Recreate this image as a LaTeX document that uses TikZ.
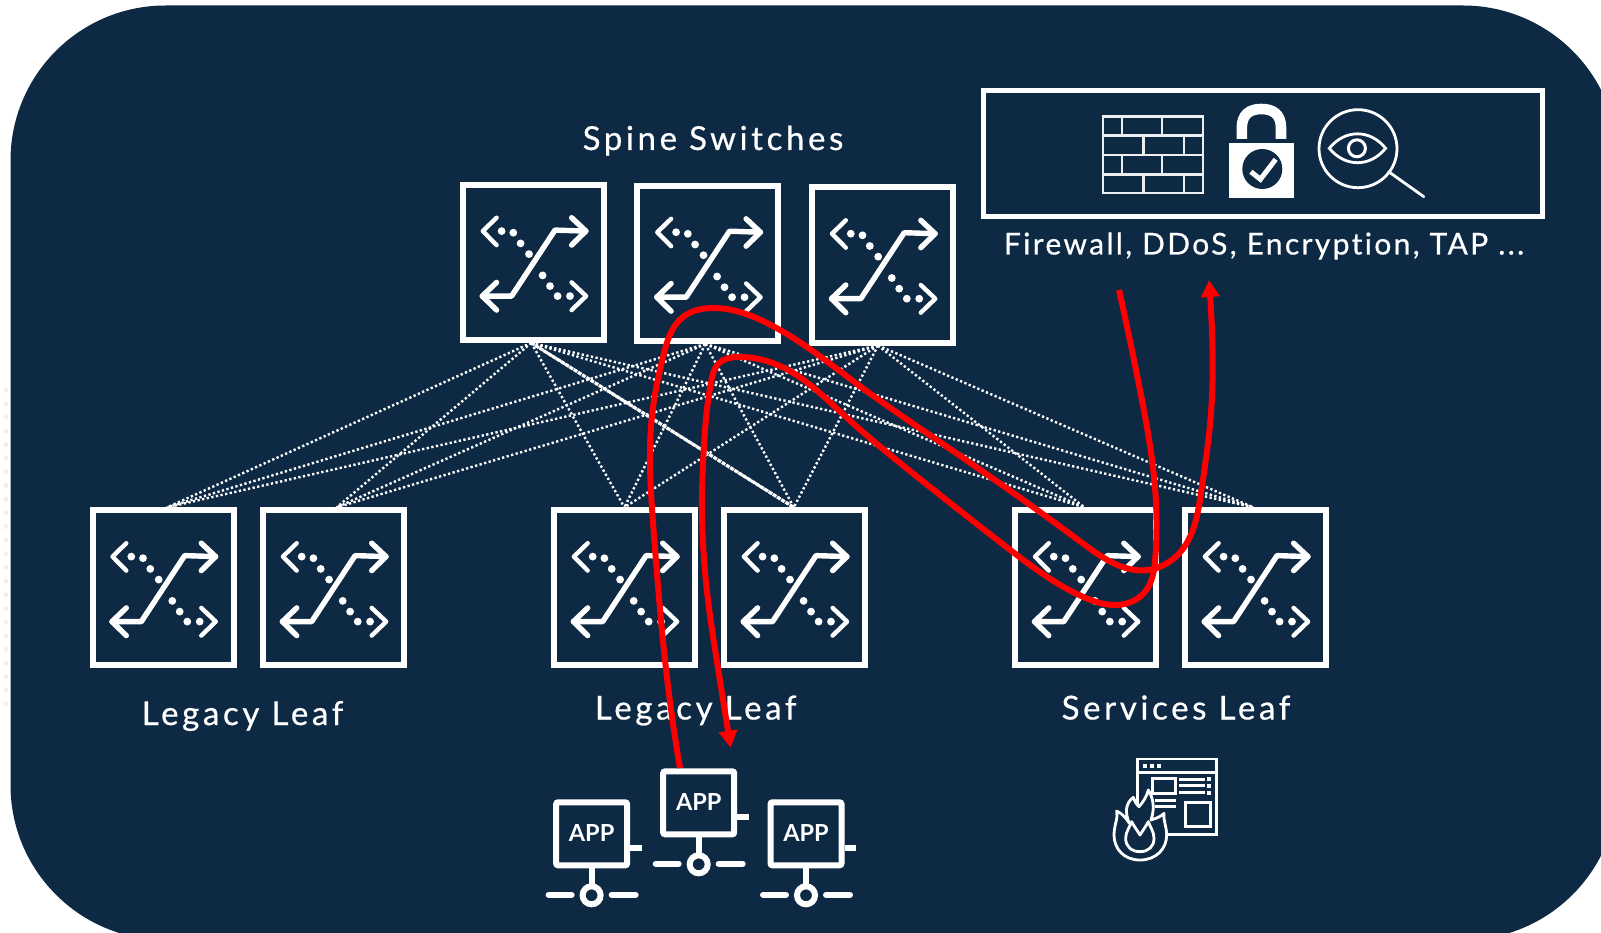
\documentclass[tikz,border=0pt]{standalone}
\usepackage{fontspec}
\setmainfont[Ligatures=NoCommon]{Lato}
\usetikzlibrary{arrows.meta,hobby}
\definecolor{navy}{RGB}{13,41,67}
\definecolor{hot}{RGB}{255,0,0}
\tikzset{
  swbox/.style={draw=white,line width=6pt,fill=navy,minimum width=141pt,minimum height=155pt,inner sep=0pt},
  solidline/.style={draw=white,line width=5.4pt,line cap=round,line join=round},
  dotline/.style={draw=white,line width=2.4pt,dash pattern=on 2.3pt off 2.4pt},
  thickdot/.style={draw=white,line width=3.2pt,dash pattern=on 4pt off 1pt},
  lbl/.style={text=white,anchor=base,inner sep=0pt,font=\fontsize{33}{38}\selectfont\addfontfeature{LetterSpace=11,FakeBold=0.6}},
  icon/.style={draw=white,line width=2.8pt},
  appline/.style={draw=white,line width=6pt,line cap=round},
  redline/.style={draw=hot,line width=6pt}
}
\newcommand{\netswitch}[3]{%
  \node[swbox] (#1) at (#2,#3) {};
  \begin{scope}[shift={(#2,#3)}]
    \draw[solidline] (-51,33.7) -- (-21.7,33.7) -- (21.7,-32.3) -- (52.6,-31.3);
    \draw[solidline] (-36.7,20) -- (-51,33.7) -- (-36.7,47.7);
    \draw[solidline] (38.3,-44.7) -- (52.6,-31.3) -- (38.3,-17.3);
    \draw[solidline,line width=4.4pt] (-36.7,-44.7) -- (-50.5,-31.3) -- (-36.7,-17.3);
    \draw[solidline,line width=4.4pt] (38.3,20) -- (52.8,33.7) -- (38.3,47.7);
    \foreach \dx/\dy in {-31.7/-31.3,-20/-29.7,-12.7/-19,-4.3/-8.3,9.3/13,16.7/23.7,24.3/33.7,36.7/33.7}
      \fill[white] (\dx,\dy) circle (3.9pt);
  \end{scope}}
\newcommand{\appicon}[3]{%
  \node[draw=white,line width=6pt,rounded corners=2pt,fill=navy,minimum width=71pt,minimum height=63pt,inner sep=0pt,text=white,font=\fontsize{23.5}{26}\selectfont\bfseries] (#1) at (#2,#3) {\raisebox{1.5pt}{APP}};
  \begin{scope}[shift={(#2,#3)}]
    \draw[draw=white,line width=6pt] (38.5,14.5) -- (50,14.5);
    \draw[draw=white,line width=6pt] (0,34.5) -- (0,55);
    \draw[draw=white,line width=6pt] (0,61.5) circle (9pt);
    \draw[appline] (-43,61) -- (-20,61);
    \draw[appline] (20,61) -- (44,61);
  \end{scope}}
\begin{document}
\begin{tikzpicture}[x=1pt,y=-1pt,use Hobby shortcut]
\useasboundingbox (0,0) rectangle (1601,933);
\clip (0,0) rectangle (1601,933);
\fill[white] (0,0) rectangle (1601,933);
\foreach \k in {0,...,23}
  \fill[black!6] (6,390+\k*13.65) circle (2.4pt);
\fill[navy,rounded corners=155pt] (10.5,5.5) rectangle (1618,940);

% switches
\netswitch{s1}{533.3}{262.4}
\netswitch{s2}{707.8}{263.5}
\netswitch{s3}{882.5}{265}
\netswitch{l1}{163}{587.9}
\netswitch{l2}{333.4}{587.9}
\netswitch{l3}{624.4}{587.9}
\netswitch{l4}{794.3}{587.9}
\netswitch{l5}{1085.5}{587.9}
\netswitch{l6}{1255.3}{587.9}

% fabric links
\foreach \s/\sx in {s1/-2,s2/-2.5,s3/-4.5}
  \foreach \l/\lx in {l1/4,l2/3.2,l3/0,l4/-.5,l5/-1,l6/-2}
    \draw[dotline] ([xshift=\sx pt]\s.south) -- ([xshift=\lx pt]\l.north);
\draw[thickdot] ([xshift=-2pt]s1.south) -- ([xshift=-.5pt]l4.north);

% labels
\node[lbl] (spine) at (713,150) {Spine Switches};
\node[lbl] (leafa) at (242.5,725) {Legacy Leaf};
\node[lbl] (leafb) at (695.7,719.5) {Legacy Leaf};
\node[lbl] (leafc) at (1176,719.5) {Services Leaf};
\node[lbl,font=\fontsize{30}{34}\selectfont\addfontfeature{LetterSpace=7.8,FakeBold=0.6}] (svc) at (1264,254.5) {Firewall, DDoS, Encryption, TAP ...};

% services box
\node[draw=white,line width=5pt,minimum width=559pt,minimum height=126pt,inner sep=0pt] (svcbox) at (1263,153.7) {};
% brick wall
\draw[draw=white!92!navy,line width=2.8pt] (1103,116.4) rectangle (1203,193);
\draw[draw=white!92!navy,line width=2.8pt]
  (1103,135.5) -- (1203,135.5) (1103,155) -- (1203,155) (1103,174.5) -- (1203,174.5)
  (1122,116.4) -- (1122,135.5) (1162,116.4) -- (1162,135.5)
  (1143.7,135.5) -- (1143.7,155) (1184,135.5) -- (1184,155)
  (1122,155) -- (1122,174.5) (1162,155) -- (1162,174.5)
  (1143.7,174.5) -- (1143.7,193) (1184,174.5) -- (1184,193);
% lock
\draw[draw=white,line width=10.6pt] (1241.8,139) -- (1241.8,128) .. controls (1241.8,114) and (1250,109) .. (1261.4,109) .. controls (1272.8,109) and (1281,114) .. (1281,128) -- (1281,139);
\fill[white] (1229,143.3) rectangle (1294,197.7);
\fill[navy] (1262.3,169) circle (20pt);
\draw[draw=white,line width=5pt] (1250.9,171.7) -- (1260.4,179.3) -- (1275.7,159.3);
% magnifier with eye
\draw[icon] (1358,148.7) circle (39pt);
\draw[icon,line cap=round] (1388.6,171.7) -- (1423.8,196.7);
\draw[icon,line width=2.8pt] (1329.3,148.3) .. controls (1345,129) and (1370,129) .. (1385.6,148.3) .. controls (1370,167.5) and (1345,167.5) .. (1329.3,148.3) -- cycle;
\draw[icon,line width=3pt] (1356.9,148.3) circle (8.5pt);

% apps
\appicon{app1}{591.6}{833.8}
\appicon{app2}{698.7}{802.8}
\appicon{app3}{806}{833.8}

% burning window
\begin{scope}[shift={(1090,740)},x=.33333pt,y=-.33333pt]
  \draw[icon] (143,57) rectangle (380,283);
  \draw[icon] (143,97) -- (380,97);
  \foreach \dx in {165,187,208} \fill[white] (\dx-6,72) rectangle (\dx+6,84);
  \draw[icon,line width=3pt] (188,115) rectangle (255,160);
  \draw[icon,line width=3pt] (285,187) rectangle (360,260);
  \draw[icon,line width=3pt] (267,117) -- (345,117) (267,137) -- (345,137) (267,158) -- (345,158) (195,180) -- (258,180) (195,200) -- (258,200);
  \foreach \dy in {117,137,158} \fill[white] (351,\dy-6) rectangle (363,\dy+6);
  \draw[icon,fill=navy,line join=round] (150,360) .. controls (100,360) and (72,325) .. (72,285) .. controls (72,255) and (85,235) .. (80,213) .. controls (100,222) and (112,240) .. (118,250) .. controls (105,220) and (105,190) .. (130,172) .. controls (135,185) and (140,195) .. (147,200) .. controls (160,185) and (170,170) .. (175,150) .. controls (190,175) and (195,205) .. (183,240) .. controls (200,235) and (215,228) .. (222,220) .. controls (220,245) and (230,260) .. (230,285) .. controls (230,325) and (200,360) .. (150,360) -- cycle;
  \draw[icon,line join=round] (150,335) .. controls (125,335) and (107,320) .. (107,295) .. controls (107,275) and (120,260) .. (125,245) .. controls (133,260) and (142,272) .. (150,285) .. controls (158,272) and (167,260) .. (175,245) .. controls (180,260) and (192,275) .. (192,295) .. controls (192,320) and (175,335) .. (150,335) -- cycle;
\end{scope}

% traffic paths
\draw[redline,-{Triangle[length=17pt,width=18pt]}] (680,768) .. (669,694) .. (653.6,530) .. (650,463) .. (653.6,403) .. (663,357) .. (683,317) .. (713,308) .. (767,323) .. (860.7,386.7) .. (937,440) .. (1013.8,493.3) .. (1082.7,543.3) .. (1147.8,570) .. (1182,550) .. (1201,493) .. (1211,413) .. (1211,310) .. (1209,280);
\draw[redline,-{Triangle[length=17pt,width=18pt]}] (1119,290) .. (1140,390) .. (1155.4,493) .. (1155.4,556.7) .. (1144,593) .. (1115,605) .. (1082.7,596.7) .. (1006,546.7) .. (929.6,486.7) .. (841.6,413) .. (788,370) .. (738,357) .. (719,363) .. (711.5,380) .. (704,446) .. (702,497) .. (707.6,596.7) .. (718.3,670) .. (730.7,747.7);
\end{tikzpicture}
\end{document}
